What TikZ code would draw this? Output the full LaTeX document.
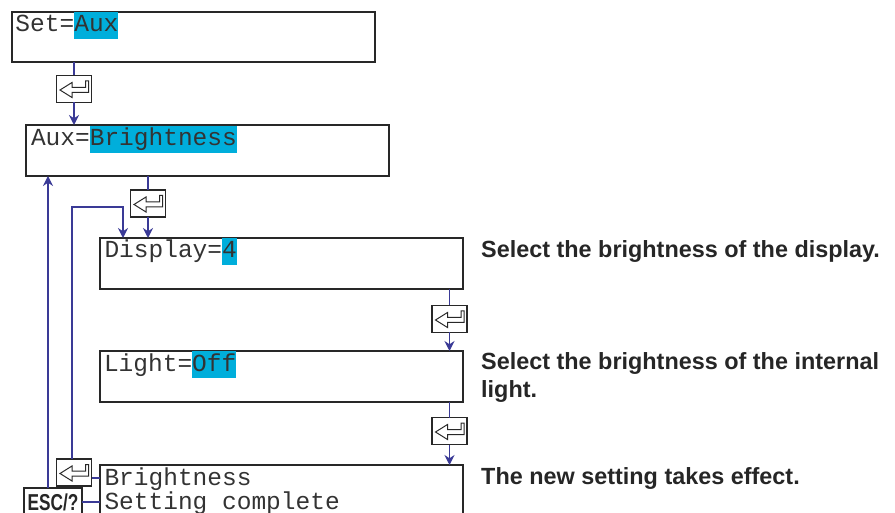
\documentclass[tikz,border=0pt]{standalone}
\usepackage{fontspec}
\usepackage{graphicx}
\setmainfont{Liberation Sans}
\newfontfamily\monofont{Liberation Mono}
\usetikzlibrary{arrows.meta}
\definecolor{hlcyan}{RGB}{0,174,219}
\definecolor{conblue}{RGB}{58,58,150}
\definecolor{framegray}{RGB}{40,40,40}
\begin{document}
\begin{tikzpicture}[x=1pt,y=-1pt,
  screen/.style={draw=framegray, line width=2pt, minimum width=363pt, minimum height=51pt,
    anchor=north west, inner sep=0pt, outer sep=0pt},
  mono/.style={font=\monofont\fontsize{24.5}{24.5}\selectfont, inner sep=0pt, outer sep=0pt,
    anchor=base west, text height=20pt, text depth=7pt, text=black!80},
  hl/.style={mono, fill=hlcyan},
  note/.style={font=\bfseries\fontsize{23.4}{27}\selectfont, anchor=base west, inner sep=0pt, text=black!85},
  con/.style={draw=conblue, line width=1.2pt},
  arr/.style={con, -{Stealth[length=10pt,width=10pt]}},
  enterkey/.style={draw=framegray, line width=1.2pt, minimum width=35pt, minimum height=27pt,
    inner sep=0pt, outer sep=0pt, fill=white},
  keyglyph/.style={draw=framegray, line width=1pt, line join=miter},
  esckey/.style={draw=framegray, line width=1.2pt, minimum width=58pt, minimum height=28pt,
    inner sep=0pt, outer sep=0pt, fill=white, text height=17pt, text depth=0pt,
    font=\bfseries\fontsize{23}{23}\selectfont, text=black!85},
]
\useasboundingbox (0,0) rectangle (895,513);

% screens
\node[screen, minimum height=50pt] (b1) at (12,12) {};
\node[screen] (b2) at (26,125) {};
\node[screen] (b3) at (100,238) {};
\node[screen] (b4) at (100,351) {};
\node[screen, minimum height=80pt] (b5) at (100,465) {};

% screen texts
\node[mono] (t1a) at (15.5,32) {Set=};
\node[hl] (t1b) at (t1a.base east) {Aux};
\node[mono] (t2a) at (31,146) {Aux=};
\node[hl] (t2b) at (t2a.base east) {Brightness};
\node[mono] (t3a) at (104.5,258) {Display=};
\node[hl] (t3b) at (t3a.base east) {4};
\node[mono] (t4a) at (104,371) {Light=};
\node[hl] (t4b) at (t4a.base east) {Off};
\node[mono] (t5a) at (104.5,485) {Brightness};
\node[mono] (t5b) at (104.5,509) {Setting complete};

% keys
\node[enterkey] (e1) at (74,89) {};
\node[enterkey] (e2) at (148,203.5) {};
\node[enterkey] (e3) at (449.5,319) {};
\node[enterkey] (e4) at (449.5,431) {};
\node[enterkey] (e5) at (74,472.5) {};
\foreach \k in {e1,e2,e3,e4,e5}{
  \draw[keyglyph, shift={(\k.north west)}]
    (3.5,14.5) -- (15.5,7) -- (15.5,12) -- (29,12) -- (29,5.5) -- (32,5.5)
    -- (32,17) -- (15.5,17) -- (15.5,22) -- cycle;
}
\node[esckey] (esc) at (53,502) {\scalebox{0.75}[1]{ESC/?}};

% connectors
\draw[con] (b1.south -| e1) -- (e1.north);
\draw[arr] (e1.south) -- (e1.south |- b2.north);
\draw[con] (b2.south -| e2) -- (e2.north);
\draw[arr] (e2.south) -- (e2.south |- b3.north);
\draw[con] (b3.south -| e3) -- (e3.north);
\draw[arr] (e3.south) -- (e3.south |- b4.north);
\draw[con] (b4.south -| e4) -- (e4.north);
\draw[arr] (e4.south) -- (e4.south |- b5.north);

\coordinate (lp) at (72,207);
\coordinate (lq) at (123,207);
\draw[arr] (e5.north -| lp) -- (lp) -- (lq) -- (lq |- b3.north);
\coordinate (up) at (48,300);
\draw[arr] (esc.north -| up) -- (up |- b2.south);
\draw[con] ([yshift=-5.5pt]e5.east) -- ([yshift=-5.5pt]e5.east -| b5.west);
\draw[con] (esc.east) -- (esc.east -| b5.west);

% notes
\node[note] (n1) at (481,258) {Select the brightness of the display.};
\node[note] (n2) at (481,370) {Select the brightness of the internal};
\node[note] (n2b) at (481,397) {light.};
\node[note] (n3) at (481,484) {The new setting takes effect.};
\end{tikzpicture}
\end{document}
